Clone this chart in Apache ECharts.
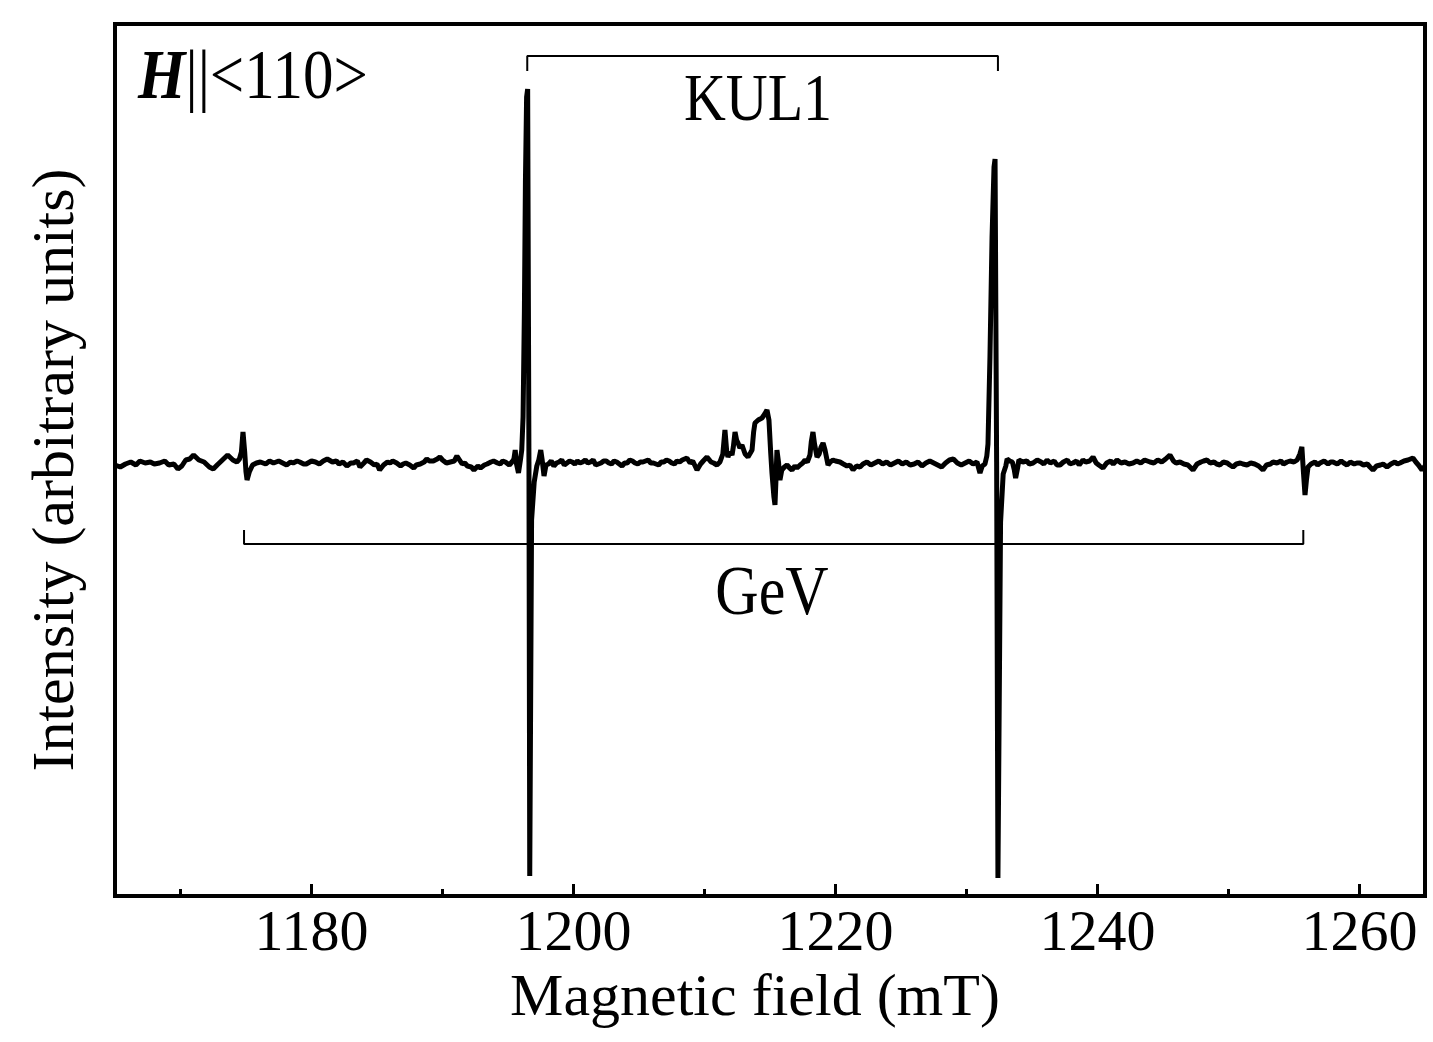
<!DOCTYPE html>
<html>
<head>
<meta charset="utf-8">
<script src="https://cdn.jsdelivr.net/npm/echarts@6/dist/echarts.min.js"></script>
<style>
html,body{margin:0;padding:0;background:#fff;}
#chart{width:1433px;height:1042px;}
</style>
</head>
<body>
<div id="chart"></div>
<script>
// ---- data (Magnetic field in mT, intensity in arbitrary units) ----
const xMin = 1165, xMax = 1265;
const yMin = -434, yMax = 438;
const majorTicks = [1180, 1200, 1220, 1240, 1260];
const minorTicks = [1170, 1190, 1210, 1230, 1250];

const spectrum = [
[1165.0,-3],[1165.4,-5],[1165.8,-2],[1166.2,0],[1166.6,-3],[1166.9,1],[1167.3,-1],[1167.7,0],[1168.0,-2],[1168.4,-1],
[1168.8,1],[1169.1,-3],[1169.5,-2],[1169.8,-7],[1170.1,-4],[1170.4,2],[1170.7,3],[1171.0,7],[1171.4,2],[1171.8,0],
[1172.2,-5],[1172.5,-7],[1172.8,-3],[1173.2,2],[1173.6,7],[1174.0,2],[1174.3,0],[1174.5,3],[1174.65,10],[1174.77,30],
[1174.9,10],[1175.0,-10],[1175.08,-18],[1175.25,-10],[1175.5,-3],[1175.8,-1],[1176.1,0],[1176.5,-2],[1176.8,1],[1177.1,-1],
[1177.5,1],[1177.8,-1],[1178.1,-3],[1178.4,0],[1178.6,-1],[1178.9,1],[1179.1,0],[1179.4,-2],[1179.6,-2],[1180.0,1],
[1180.3,0],[1180.6,-2],[1180.9,1],[1181.2,3],[1181.6,0],[1181.9,1],[1182.1,-2],[1182.4,0],[1182.7,-4],[1183.0,-1],
[1183.2,-1],[1183.5,1],[1183.7,-5],[1184.0,-1],[1184.2,2],[1184.5,0],[1184.8,-3],[1185.0,-2],[1185.2,-8],[1185.5,-3],
[1185.8,0],[1186.0,-1],[1186.2,1],[1186.5,-1],[1186.8,-4],[1187.0,-2],[1187.2,-1],[1187.5,-3],[1187.8,-6],[1188.0,-3],
[1188.3,-2],[1188.6,0],[1188.8,3],[1189.0,1],[1189.3,1],[1189.6,3],[1189.8,5],[1190.0,2],[1190.3,-1],[1190.6,0],
[1190.9,1],[1191.1,6],[1191.3,2],[1191.5,-2],[1191.7,-1],[1191.9,-4],[1192.2,-5],[1192.4,-8],[1192.7,-4],[1192.9,-6],
[1193.2,-3],[1193.4,-2],[1193.7,0],[1193.9,1],[1194.2,-1],[1194.4,-2],[1194.6,1],[1194.8,0],[1195.1,-3],[1195.3,0],
[1195.45,3],[1195.55,12],[1195.65,-2],[1195.8,-11],[1195.95,2],[1196.05,12],[1196.15,45],[1196.25,150],[1196.33,280],[1196.42,365],[1196.5,373],
[1196.6,0],[1196.66,-414],[1196.8,-58],[1197.0,-20],[1197.2,-4],[1197.35,2],[1197.5,12],[1197.6,3],[1197.75,-14],[1197.9,-3],
[1198.1,-2],[1198.3,1],[1198.5,-4],[1198.7,-1],[1198.9,0],[1199.1,2],[1199.3,-3],[1199.5,-1],[1199.7,1],[1199.9,0],
[1200.1,-2],[1200.3,1],[1200.5,-1],[1200.7,0],[1200.9,2],[1201.1,-1],[1201.3,0],[1201.5,2],[1201.7,-3],[1201.9,-2],
[1202.1,-1],[1202.3,1],[1202.5,1],[1202.7,-1],[1202.9,-2],[1203.1,1],[1203.3,0],[1203.5,-2],[1203.7,-4],[1203.9,-1],
[1204.1,-1],[1204.3,2],[1204.5,1],[1204.7,-1],[1204.9,-2],[1205.1,0],[1205.3,0],[1205.5,1],[1205.7,2],[1205.9,-1],
[1206.1,-1],[1206.3,-2],[1206.5,-3],[1206.7,0],[1206.9,0],[1207.1,2],[1207.3,1],[1207.5,-1],[1207.7,-2],[1207.9,1],
[1208.1,0],[1208.3,2],[1208.66,4],[1208.9,-1],[1209.1,1],[1209.43,-8],[1209.7,-2],[1209.9,1],[1210.19,5],[1210.5,0],
[1210.7,-1],[1210.95,-3],[1211.18,0],[1211.4,8],[1211.56,32],[1211.7,10],[1211.79,5],[1211.95,10],[1212.1,7],[1212.2,15],
[1212.33,30],[1212.45,22],[1212.56,19],[1212.7,14],[1212.86,17],[1213.1,8],[1213.32,5],[1213.5,9],[1213.63,12],[1213.75,30],
[1213.85,39],[1214.1,42],[1214.39,44],[1214.6,48],[1214.77,52],[1214.92,42],[1215.05,10],[1215.15,-11],[1215.3,-35],[1215.38,-43],
[1215.45,-20],[1215.53,12],[1215.65,0],[1215.76,-18],[1215.9,-8],[1216.1,-5],[1216.3,-3],[1216.5,-6],[1216.68,-8],[1216.9,-4],
[1217.06,-6],[1217.3,-3],[1217.5,-1],[1217.67,2],[1217.85,0],[1218.05,7],[1218.15,20],[1218.28,30],[1218.4,18],[1218.59,5],
[1218.75,8],[1218.9,15],[1219.05,19],[1219.2,12],[1219.43,-3],[1219.6,0],[1219.81,2],[1220.0,1],[1220.34,0],[1220.6,-2],
[1220.88,-4],[1221.1,-3],[1221.34,-8],[1221.6,-4],[1221.87,-5],[1222.1,-2],[1222.4,0],[1222.7,-3],[1223.0,-1],[1223.3,1],
[1223.6,-2],[1223.9,0],[1224.2,-3],[1224.5,-1],[1224.8,1],[1225.1,-2],[1225.4,0],[1225.7,-3],[1226.0,-2],[1226.3,0],
[1226.6,-4],[1226.9,-1],[1227.2,1],[1227.5,-1],[1227.8,-3],[1228.1,-5],[1228.4,-1],[1228.7,2],[1229.0,3],[1229.3,-1],
[1229.6,-3],[1229.9,-1],[1230.2,1],[1230.5,-2],[1230.8,0],[1231.03,-11],[1231.2,-4],[1231.41,-2],[1231.55,6],[1231.64,18],
[1231.79,105],[1231.95,225],[1232.1,295],[1232.18,303],[1232.3,0],[1232.4,-416],[1232.6,-60],[1232.8,-12],[1233.0,-4],[1233.1,3],
[1233.3,1],[1233.5,0],[1233.65,-8],[1233.75,-16],[1233.9,-6],[1234.0,2],[1234.3,0],[1234.6,1],[1234.8,-2],[1235.08,-1],
[1235.4,2],[1235.7,0],[1235.9,-2],[1236.15,2],[1236.4,-1],[1236.7,1],[1236.9,-3],[1237.14,-3],[1237.4,0],[1237.7,2],
[1237.9,-2],[1238.13,-1],[1238.4,1],[1238.6,-3],[1238.89,2],[1239.1,0],[1239.4,1],[1239.66,5],[1239.9,-1],[1240.1,-3],
[1240.42,-6],[1240.7,-1],[1241.0,1],[1241.2,-2],[1241.49,2],[1241.8,-1],[1242.1,0],[1242.4,-2],[1242.71,-1],[1243.0,1],
[1243.3,-1],[1243.6,2],[1244.01,0],[1244.3,-1],[1244.6,2],[1244.9,0],[1245.2,3],[1245.53,7],[1245.8,1],[1246.0,-1],
[1246.3,0],[1246.6,-2],[1246.9,-3],[1247.29,-8],[1247.6,-2],[1247.9,0],[1248.1,1],[1248.36,2],[1248.6,-1],[1248.9,0],
[1249.1,-2],[1249.35,-3],[1249.6,0],[1249.9,-1],[1250.1,-3],[1250.34,-5],[1250.6,-2],[1250.9,-1],[1251.1,-2],[1251.41,-3],
[1251.7,-1],[1252.0,-2],[1252.3,-4],[1252.63,-8],[1252.9,-3],[1253.2,-2],[1253.4,0],[1253.7,-1],[1254.0,1],[1254.2,-2],
[1254.47,0],[1254.7,1],[1255.0,0],[1255.24,2],[1255.45,8],[1255.6,15],[1255.72,-10],[1255.84,-33],[1255.95,-18],[1256.07,-5],
[1256.3,-2],[1256.6,0],[1256.8,-3],[1256.99,-1],[1257.3,1],[1257.6,-2],[1257.8,0],[1257.98,0],[1258.3,-2],[1258.6,1],
[1258.8,-1],[1259.05,-3],[1259.3,0],[1259.6,-2],[1259.8,-1],[1260.04,-1],[1260.3,-3],[1260.6,-2],[1260.8,-5],[1261.03,-8],
[1261.3,-4],[1261.6,-3],[1261.8,-2],[1262.1,-5],[1262.4,-2],[1262.7,0],[1262.9,-2],[1263.09,-1],[1263.4,1],[1263.7,2],
[1264.08,4],[1264.3,0],[1264.5,-3],[1264.77,-8],[1265.0,-4]
];

// bracket annotations (field positions of the lines, intensity levels)
const kulBracketX = [1196.47, 1196.47, 1232.40, 1232.40];
const kulBracketY = [391, 406, 406, 391];
const gevBracketX = [1174.85, 1174.85, 1255.71, 1255.71];
const gevBracketY = [-68, -82, -82, -68];

const xAxisTitle = 'Magnetic field (mT)';
const yAxisTitle = 'Intensity (arbitrary units)';

// ---- chart ----
const FONT = '"Liberation Serif", "Times New Roman", serif';
const chart = echarts.init(document.getElementById('chart'), null, {renderer: 'canvas'});

function zip(xs, ys) { return xs.map((x, i) => [x, ys[i]]); }

const option = {
  animation: false,
  backgroundColor: '#ffffff',
  grid: {
    left: 115, right: 8, top: 24, bottom: 146,
    show: true, borderColor: '#000', borderWidth: 4, backgroundColor: 'transparent'
  },
  xAxis: [
    {
      type: 'value', min: xMin, max: xMax, position: 'bottom',
      name: xAxisTitle, nameLocation: 'middle', nameGap: 68,
      nameTextStyle: {fontFamily: FONT, fontSize: 60, color: '#000', padding: [0, 30, 0, 0]},
      axisLine: {show: false, onZero: false},
      axisTick: {show: true, inside: true, length: 12, lineStyle: {color: '#000', width: 3}, customValues: majorTicks},
      axisLabel: {show: true, margin: 10, fontFamily: FONT, fontSize: 58, color: '#000', customValues: majorTicks,
                  formatter: v => String(v)},
      splitLine: {show: false}
    },
    {
      type: 'value', min: xMin, max: xMax, position: 'bottom',
      axisLine: {show: false, onZero: false},
      axisTick: {show: true, inside: true, length: 7, lineStyle: {color: '#000', width: 3}, customValues: minorTicks},
      axisLabel: {show: false},
      splitLine: {show: false}
    }
  ],
  yAxis: {
    type: 'value', min: yMin, max: yMax,
    name: yAxisTitle, nameLocation: 'middle', nameGap: 28, nameRotate: 90,
    nameTextStyle: {fontFamily: FONT, fontSize: 60, color: '#000', padding: [0, 20, 0, 0]},
    axisLine: {show: false, onZero: false}, axisTick: {show: false}, axisLabel: {show: false}, splitLine: {show: false}
  },
  series: [
    {
      type: 'line', data: spectrum, showSymbol: false, symbol: 'none',
      lineStyle: {color: '#000', width: 5}, clip: true, z: 3
    },
    {
      type: 'line', data: zip(kulBracketX, kulBracketY), showSymbol: false, symbol: 'none',
      lineStyle: {color: '#000', width: 2}, z: 2
    },
    {
      type: 'line', data: zip(gevBracketX, gevBracketY), showSymbol: false, symbol: 'none',
      lineStyle: {color: '#000', width: 2}, z: 2
    }
  ],
  graphic: [
    {
      type: 'text', x: 138, y: 80, scaleY: 1.15, z: 10,
      style: {
        text: '{h|H}{n|||<110>}',
        fill: '#000', align: 'left', verticalAlign: 'middle',
        rich: {
          h: {fontFamily: FONT, fontSize: 61, fontWeight: 'bold', fontStyle: 'italic', fill: '#000'},
          n: {fontFamily: FONT, fontSize: 61, fill: '#000'}
        }
      }
    },
    {
      type: 'text', x: 758, y: 102, scaleY: 1.15, z: 10,
      style: {text: 'KUL1', fontFamily: FONT, fontSize: 58, fill: '#000', align: 'center', verticalAlign: 'middle'}
    },
    {
      type: 'text', x: 772, y: 596, scaleY: 1.15, z: 10,
      style: {text: 'GeV', fontFamily: FONT, fontSize: 60, fill: '#000', align: 'center', verticalAlign: 'middle'}
    }
  ]
};
chart.setOption(option);
</script>
</body>
</html>
